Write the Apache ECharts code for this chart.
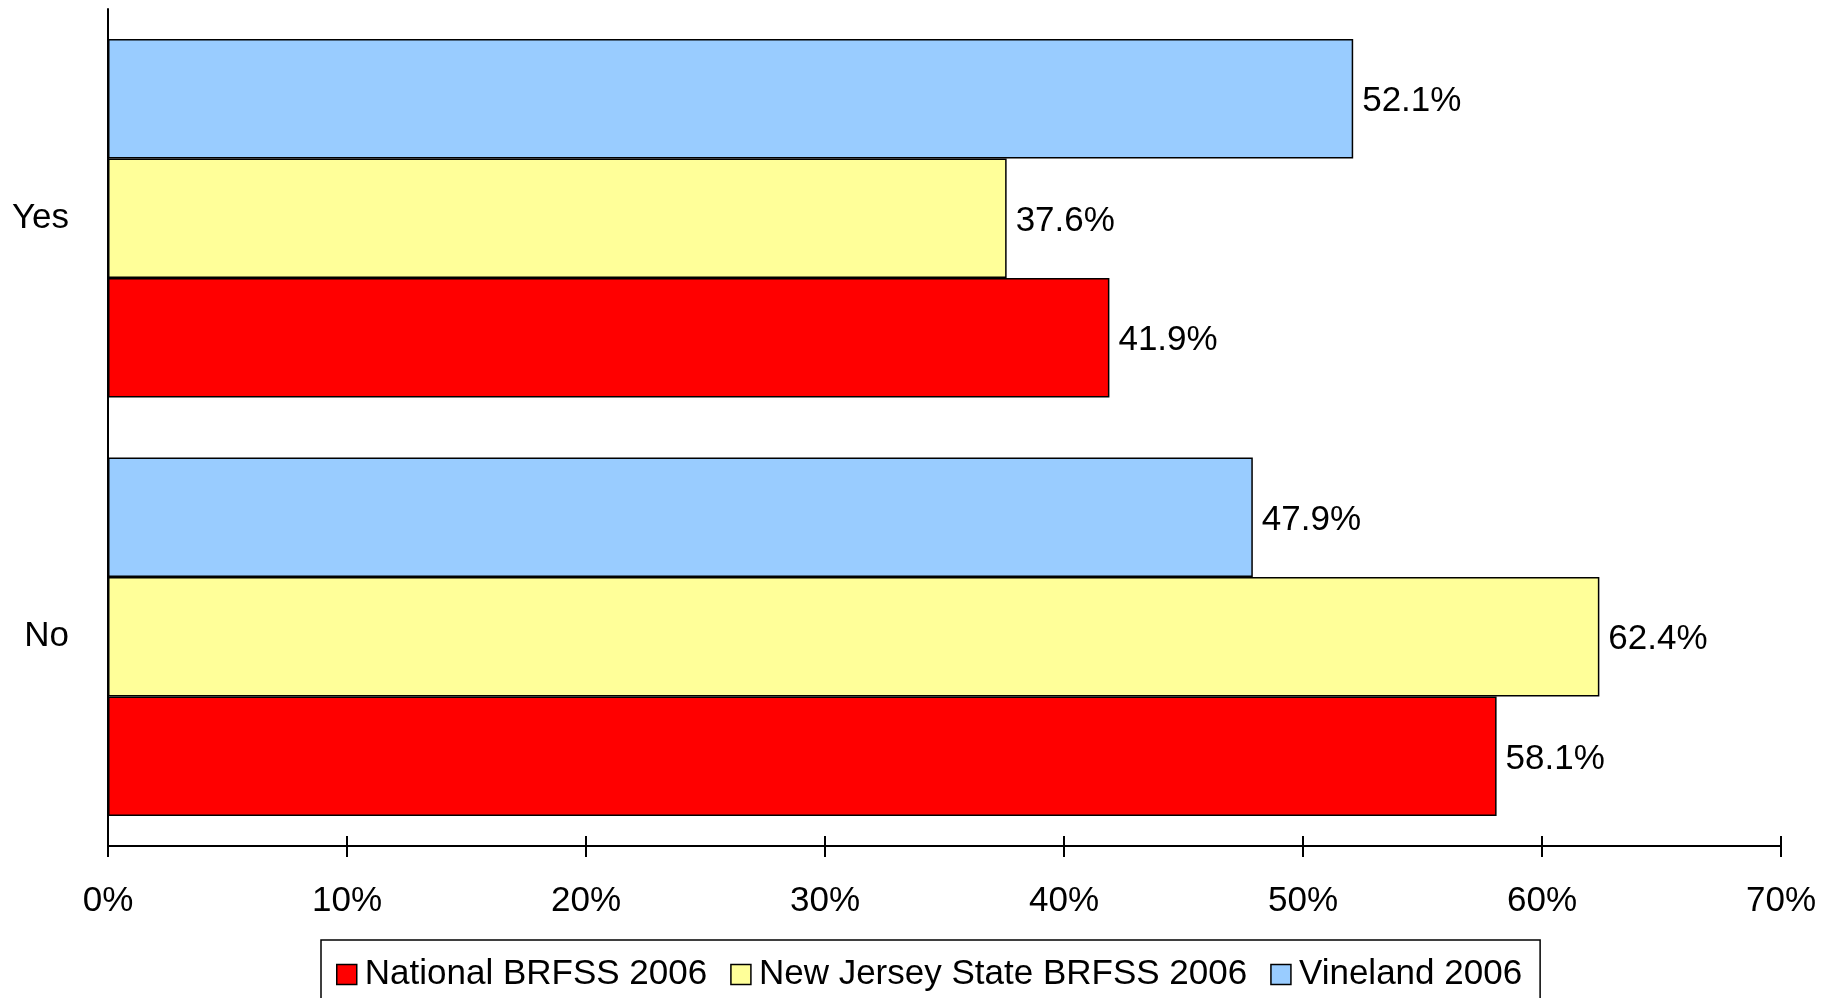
<!DOCTYPE html>
<html>
<head>
<meta charset="utf-8">
<script src="https://cdn.jsdelivr.net/npm/echarts@6/dist/echarts.min.js"></script>
<style>html,body{margin:0;padding:0;background:#fff}#c{width:1835px;height:998px}</style>
</head>
<body>
<div id="c"></div>
<script>
const categories = ['No', 'Yes'];
const seriesNames = ['National BRFSS 2006', 'New Jersey State BRFSS 2006', 'Vineland 2006'];
const national = [58.1, 41.9];
const newJersey = [62.4, 37.6];
const vineland = [47.9, 52.1];
const xTicks = [0, 10, 20, 30, 40, 50, 60, 70];
const colors = ['#FF0000', '#FFFF99', '#99CCFF'];

const FONT = "'Liberation Sans', Arial, sans-serif";
const chart = echarts.init(document.getElementById('c'), null, {renderer: 'canvas'});
const values = [national, newJersey, vineland];
// ECharts stacks horizontal bar groups top-down in series order, so draw in reverse
const drawOrder = [2, 1, 0];
const option = {
  animation: false,
  backgroundColor: '#ffffff',
  textStyle: {fontFamily: FONT},
  grid: {left: 108, right: 54, top: 9, bottom: 152, containLabel: false},
  legend: {
    data: seriesNames,
    left: 321,
    top: 940,
    orient: 'horizontal',
    icon: 'rect',
    itemWidth: 20,
    itemHeight: 20,
    itemGap: 23,
    padding: [17, 18, 40, 15],
    borderColor: '#000',
    borderWidth: 1.5,
    backgroundColor: '#fff',
    itemStyle: {borderColor: '#000', borderWidth: 1.5},
    textStyle: {fontFamily: FONT, fontSize: 35, color: '#000', padding: [0, 0, 0, 3]},
    selectedMode: false
  },
  xAxis: [
    {
      type: 'value', min: xTicks[0], max: xTicks[xTicks.length - 1], interval: 10,
      position: 'bottom',
      axisLine: {show: true, lineStyle: {color: '#000', width: 2}},
      axisTick: {show: true, inside: false, length: 11, lineStyle: {color: '#000', width: 2}},
      axisLabel: {formatter: '{value}%', fontFamily: FONT, fontSize: 35, color: '#000', margin: 38},
      splitLine: {show: false}
    },
    {
      type: 'value', min: xTicks[0], max: xTicks[xTicks.length - 1], interval: 10,
      position: 'bottom',
      axisLine: {show: false},
      axisTick: {show: true, inside: true, length: 10, lineStyle: {color: '#000', width: 2}},
      axisLabel: {show: false},
      splitLine: {show: false}
    }
  ],
  yAxis: {
    type: 'category', data: categories,
    axisLine: {show: true, lineStyle: {color: '#000', width: 2}},
    axisTick: {show: false},
    axisLabel: {fontFamily: FONT, fontSize: 35, color: '#000', margin: 39, padding: [6, 0, 0, 0]}
  },
  series: drawOrder.map(i => ({
    name: seriesNames[i],
    type: 'bar',
    xAxisIndex: 0,
    data: values[i],
    barGap: '0%',
    barCategoryGap: '14.3%',
    itemStyle: {color: colors[i], borderColor: '#000', borderWidth: 1.5},
    label: {show: true, position: 'right', distance: 9, offset: [0, 3], formatter: '{c}%', fontFamily: FONT, fontSize: 35, color: '#000'}
  }))
};
chart.setOption(option);
</script>
</body>
</html>
